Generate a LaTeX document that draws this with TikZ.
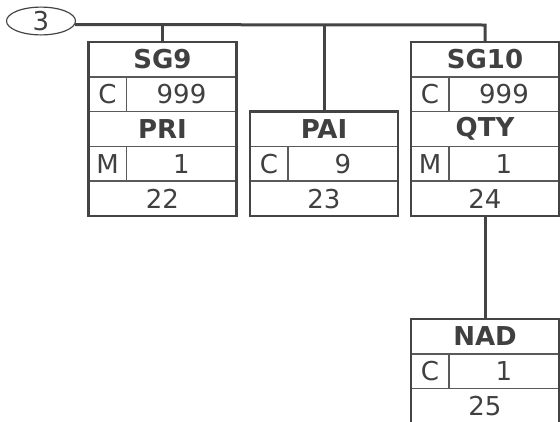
\documentclass[tikz,border=0pt]{standalone}
\usepackage{fontspec}
\setmainfont{DejaVu Sans}
\usetikzlibrary{positioning,shapes.geometric}
\definecolor{linegray}{HTML}{444444}
\definecolor{textgray}{HTML}{404040}
\definecolor{sepgray}{HTML}{5A5A5A}
\tikzset{
  cell/.style={draw=sepgray, line width=1.6pt, minimum height=34.8pt, inner sep=0pt,
    outer sep=0pt, text=textgray, font=\fontsize{26}{30}\selectfont},
  head/.style={cell, minimum width=148pt, font=\fontsize{26}{30}\selectfont\bfseries},
  st/.style={cell, minimum width=38pt},
  rep/.style={cell, minimum width=110pt},
  foot/.style={cell, minimum width=148pt},
  frame/.style={draw=linegray, line width=2.4pt},
  link/.style={draw=linegray, line width=3pt},
  oval/.style={ellipse, draw=linegray, line width=1.2pt, minimum width=69pt,
    minimum height=22pt, inner sep=0pt, text=textgray, font=\fontsize{26}{30}\selectfont},
}
\begin{document}
\begin{tikzpicture}[x=1pt, y=-1pt]
  \useasboundingbox (0,0) rectangle (560,421);
  % Group counter and the bar above the boxes
  \node[oval] (grp) at (41,21) {3};
  \coordinate (bar) at (485,25);

  % SG9 with PRI
  \node[head] (sg9) at (162.5,59.4) {SG9};
  \node[st, anchor=north west] (sg9st) at (sg9.south west) {C};
  \node[rep, anchor=north east] (sg9rep) at (sg9.south east) {999};
  \node[head, anchor=north west] (pri) at (sg9st.south west) {PRI};
  \node[st, anchor=north west] (prist) at (pri.south west) {M};
  \node[rep, anchor=north east] (prirep) at (pri.south east) {1};
  \node[foot, anchor=north west] (pri22) at (prist.south west) {22};
  \draw[frame] (sg9.north west) rectangle (pri22.south east);

  % PAI
  \node[head] (pai) at (324,129) {PAI};
  \node[st, anchor=north west] (paist) at (pai.south west) {C};
  \node[rep, anchor=north east] (pairep) at (pai.south east) {9};
  \node[foot, anchor=north west] (pai23) at (paist.south west) {23};
  \draw[frame] (pai.north west) rectangle (pai23.south east);

  % SG10 with QTY
  \node[head] (sg10) at (485,59.4) {SG10};
  \node[st, anchor=north west] (sg10st) at (sg10.south west) {C};
  \node[rep, anchor=north east] (sg10rep) at (sg10.south east) {999};
  \node[head, anchor=north west] (qty) at (sg10st.south west) {QTY};
  \node[st, anchor=north west] (qtyst) at (qty.south west) {M};
  \node[rep, anchor=north east] (qtyrep) at (qty.south east) {1};
  \node[foot, anchor=north west] (qty24) at (qtyst.south west) {24};
  \draw[frame] (sg10.north west) rectangle (qty24.south east);

  % NAD
  \node[head] (nad) at (485,336.4) {NAD};
  \node[st, anchor=north west] (nadst) at (nad.south west) {C};
  \node[rep, anchor=north east] (nadrep) at (nad.south east) {1};
  \node[foot, anchor=north west] (nad25) at (nadst.south west) {25};
  \draw[frame] (nad.north west) rectangle (nad25.south east);

  % Connectors
  \draw[link] (grp.-6) -- (bar) -- (sg10.north);
  \draw[link] (sg9.north) -- (sg9.north |- bar);
  \draw[link] (pai.north) -- (pai.north |- bar);
  \draw[link] (qty24.south) -- (nad.north);
\end{tikzpicture}
\end{document}
